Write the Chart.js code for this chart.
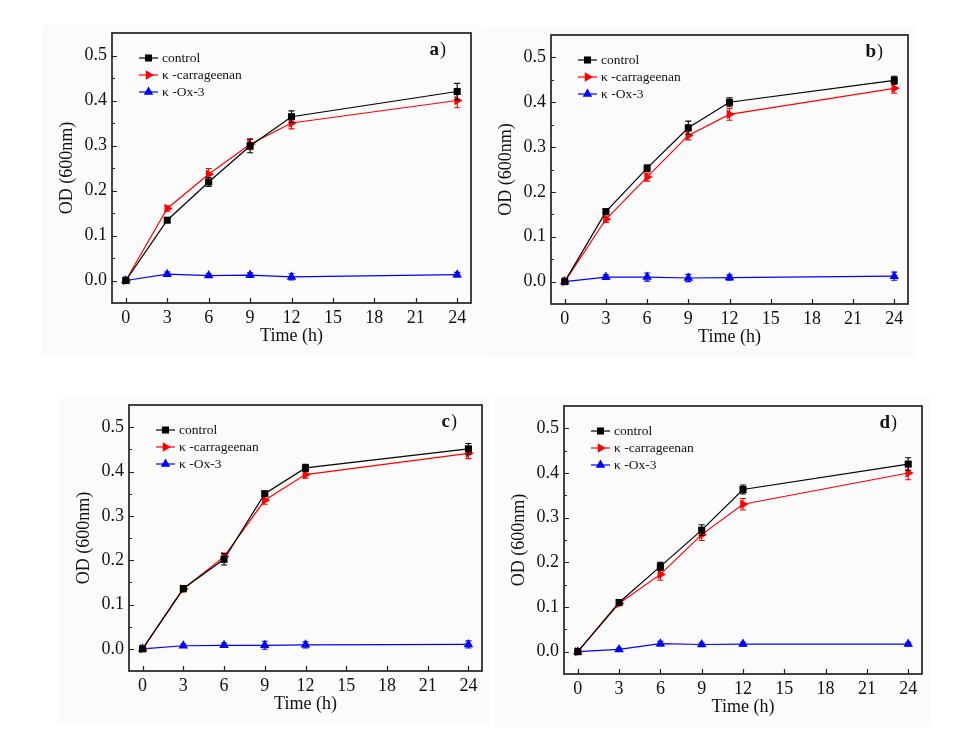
<!DOCTYPE html>
<html>
<head>
<meta charset="utf-8">
<script src="https://cdn.jsdelivr.net/npm/chart.js@4.4.1/dist/chart.umd.min.js"></script>
<style>
  html, body { margin: 0; padding: 0; background: #fff; }
  body { width: 976px; height: 756px; position: relative; overflow: hidden; }
  .bg { position: absolute; background: #fbfbfb; }
  canvas { position: absolute; }
</style>
</head>
<body>
<script>
// sampling times (h)
const times = [0, 3, 6, 9, 12, 24];
const xTicks = [0, 3, 6, 9, 12, 15, 18, 21, 24];
const yTicks = [0, 0.1, 0.2, 0.3, 0.4, 0.5];
const yMinor = [0.05, 0.15, 0.25, 0.35, 0.45];

// panel a
const ctrlA = [0, 0.134, 0.219, 0.299, 0.364, 0.420];
const ctrlErrA = [0.002, 0.005, 0.010, 0.015, 0.013, 0.018];
const carrA = [0, 0.160, 0.236, 0.303, 0.350, 0.400];
const carrErrA = [0.003, 0.006, 0.013, 0.012, 0.013, 0.016];
const oxA = [0, 0.014, 0.011, 0.012, 0.008, 0.013];
const oxErrA = [0.002, 0.005, 0.004, 0.005, 0.007, 0.005];

// panel b
const ctrlB = [0, 0.156, 0.253, 0.343, 0.400, 0.449];
const ctrlErrB = [0.002, 0.005, 0.007, 0.015, 0.010, 0.009];
const carrB = [0, 0.139, 0.233, 0.326, 0.373, 0.431];
const carrErrB = [0.003, 0.007, 0.009, 0.010, 0.013, 0.011];
const oxB = [0, 0.010, 0.010, 0.008, 0.009, 0.012];
const oxErrB = [0.002, 0.005, 0.009, 0.008, 0.006, 0.009];

// panel c
const ctrlC = [0, 0.136, 0.202, 0.350, 0.408, 0.451];
const ctrlErrC = [0.002, 0.007, 0.013, 0.005, 0.008, 0.012];
const carrC = [0, 0.135, 0.208, 0.335, 0.393, 0.441];
const carrErrC = [0.003, 0.006, 0.008, 0.009, 0.008, 0.012];
const oxC = [0, 0.007, 0.008, 0.008, 0.009, 0.010];
const oxErrC = [0.002, 0.004, 0.005, 0.009, 0.007, 0.008];

// panel d
const ctrlD = [0, 0.110, 0.191, 0.272, 0.363, 0.420];
const ctrlErrD = [0.002, 0.004, 0.009, 0.012, 0.010, 0.014];
const carrD = [0, 0.108, 0.173, 0.262, 0.330, 0.400];
const carrErrD = [0.003, 0.005, 0.013, 0.013, 0.013, 0.015];
const oxD = [0, 0.005, 0.018, 0.016, 0.017, 0.017];
const oxErrD = [0.002, 0.003, 0.005, 0.004, 0.004, 0.004];

const seriesNames = ['control', 'κ -carrageenan', 'κ -Ox-3'];

const FONT = "'Liberation Serif', 'Times New Roman', serif";
const AXIS_W = 70, AXIS_H = 60, PAD_T = 20, PAD_R = 20;

// series look
const styles = [
  { color: '#000000', pointStyle: 'rect', radius: 5, rotation: 0 },
  { color: '#ff0000', pointStyle: 'triangle', radius: 5.5, rotation: 90 },
  { color: '#0000ff', pointStyle: 'triangle', radius: 5.5, rotation: 0 }
];

// error bars, drawn under each dataset's markers
const errorBarPlugin = {
  id: 'errorBars',
  beforeDatasetDraw(chart, args) {
    const ds = chart.data.datasets[args.index];
    if (!ds.errors) return;
    const { ctx } = chart;
    const xs = chart.scales.x, ys = chart.scales.y;
    ctx.save();
    ctx.strokeStyle = ds.borderColor;
    ctx.lineWidth = 1.1;
    ds.data.forEach((p, i) => {
      const e = ds.errors[i];
      const px = xs.getPixelForValue(p.x);
      const top = ys.getPixelForValue(p.y + e);
      const bot = ys.getPixelForValue(p.y - e);
      ctx.beginPath();
      ctx.moveTo(px, top); ctx.lineTo(px, bot);
      ctx.moveTo(px - 3, top); ctx.lineTo(px + 3, top);
      ctx.moveTo(px - 3, bot); ctx.lineTo(px + 3, bot);
      ctx.stroke();
    });
    ctx.restore();
  }
};

// frame, inward ticks, legend and panel letter
const framePlugin = {
  id: 'frame',
  afterDraw(chart) {
    const { ctx, chartArea: a } = chart;
    const xs = chart.scales.x, ys = chart.scales.y;
    ctx.save();
    ctx.strokeStyle = '#222';
    ctx.lineWidth = 1.2;
    ctx.beginPath();
    xTicks.forEach(v => {
      const px = Math.round(xs.getPixelForValue(v)) + 0.5;
      ctx.moveTo(px, a.bottom); ctx.lineTo(px, a.bottom - 5);
    });
    yTicks.forEach(v => {
      const py = Math.round(ys.getPixelForValue(v)) + 0.5;
      ctx.moveTo(a.left, py); ctx.lineTo(a.left + 5, py);
    });
    yMinor.forEach(v => {
      const py = Math.round(ys.getPixelForValue(v)) + 0.5;
      ctx.moveTo(a.left, py); ctx.lineTo(a.left + 3, py);
    });
    ctx.stroke();

    ctx.lineWidth = 1.7;
    ctx.strokeRect(a.left, a.top, a.right - a.left, a.bottom - a.top);

    // legend
    ctx.font = '13.5px ' + FONT;
    ctx.textBaseline = 'middle';
    ctx.textAlign = 'left';
    chart.data.datasets.forEach((ds, i) => {
      const y = a.top + 25 + i * 17;
      const st = styles[i];
      ctx.strokeStyle = st.color;
      ctx.lineWidth = 1.2;
      ctx.beginPath();
      ctx.moveTo(a.left + 27, y); ctx.lineTo(a.left + 46, y);
      ctx.stroke();
      ctx.fillStyle = st.color;
      Chart.helpers.drawPoint(ctx, {
        pointStyle: st.pointStyle, radius: st.radius, rotation: st.rotation, borderWidth: 0
      }, a.left + 36.5, y);
      ctx.fillStyle = '#111';
      ctx.fillText(ds.label, a.left + 50, y + 0.5);
    });

    // panel letter, e.g. "a)"
    const letter = chart.options.plugins.frame.letter;
    ctx.fillStyle = '#111';
    ctx.font = '18px ' + FONT;
    const pw = ctx.measureText(')').width;
    ctx.font = 'bold 19px ' + FONT;
    const lw = ctx.measureText(letter).width;
    const x0 = a.right - 26 - pw - lw;
    ctx.fillText(letter, x0, a.top + 17);
    ctx.font = '18px ' + FONT;
    ctx.fillText(')', x0 + lw + 1, a.top + 17);
    ctx.restore();
  }
};

function makePanel(letter, area, ctrl, ctrlErr, carr, carrErr, ox, oxErr) {
  const bg = document.createElement('div');
  bg.className = 'bg';
  bg.style.left = (area.L - 70) + 'px';
  bg.style.top = (area.T - 8) + 'px';
  bg.style.width = (area.R - area.L + 78) + 'px';
  bg.style.height = (area.B - area.T + 61) + 'px';
  document.body.appendChild(bg);

  const cv = document.createElement('canvas');
  const w = area.R - area.L + AXIS_W + PAD_R;
  const h = area.B - area.T + AXIS_H + PAD_T;
  cv.width = w; cv.height = h;
  cv.style.width = w + 'px'; cv.style.height = h + 'px';
  cv.style.left = (area.L - AXIS_W) + 'px';
  cv.style.top = (area.T - PAD_T) + 'px';
  document.body.appendChild(cv);

  const values = [ctrl, carr, ox];
  const errs = [ctrlErr, carrErr, oxErr];
  const datasets = values.map((vals, i) => ({
    label: seriesNames[i],
    data: vals.map((v, j) => ({ x: times[j], y: v })),
    errors: errs[i],
    borderColor: styles[i].color,
    backgroundColor: styles[i].color,
    pointBackgroundColor: styles[i].color,
    pointBorderColor: styles[i].color,
    pointBorderWidth: 0,
    pointStyle: styles[i].pointStyle,
    pointRotation: styles[i].rotation,
    pointRadius: styles[i].radius,
    borderWidth: 1.2,
    tension: 0,
    fill: false
  }));

  const tickFont = { family: FONT, size: 18 };
  return new Chart(cv.getContext('2d'), {
    type: 'line',
    data: { datasets },
    options: {
      responsive: false,
      animation: false,
      layout: { padding: { top: PAD_T, right: PAD_R, left: 0, bottom: 0 } },
      plugins: {
        legend: { display: false },
        tooltip: { enabled: false },
        frame: { letter }
      },
      scales: {
        x: {
          type: 'linear',
          min: -1, max: 25,
          afterBuildTicks: s => { s.ticks = xTicks.map(v => ({ value: v })); },
          afterFit: s => { s.height = AXIS_H; },
          grid: { display: false, drawTicks: false },
          border: { display: false },
          ticks: {
            color: '#111', font: tickFont, padding: 4,
            maxRotation: 0, autoSkip: false,
            callback: v => String(v)
          },
          title: {
            display: true, text: 'Time (h)', color: '#111',
            font: { family: FONT, size: 18 },
            padding: { top: 0, bottom: 16 }
          }
        },
        y: {
          type: 'linear',
          min: -0.05, max: 0.55,
          afterBuildTicks: s => { s.ticks = yTicks.map(v => ({ value: v })); },
          afterFit: s => { s.width = AXIS_W; },
          grid: { display: false, drawTicks: false },
          border: { display: false },
          ticks: {
            color: '#111', font: tickFont, padding: 5,
            callback: v => Number(v).toFixed(1)
          },
          title: {
            display: true, text: 'OD (600nm)', color: '#111',
            font: { family: FONT, size: 18 },
            padding: { top: 14, bottom: 0 }
          }
        }
      }
    },
    plugins: [errorBarPlugin, framePlugin]
  });
}

makePanel('a', { L: 112, T: 33, R: 471, B: 303 }, ctrlA, ctrlErrA, carrA, carrErrA, oxA, oxErrA);
makePanel('b', { L: 551, T: 35, R: 908, B: 304 }, ctrlB, ctrlErrB, carrB, carrErrB, oxB, oxErrB);
makePanel('c', { L: 129, T: 405, R: 482, B: 671 }, ctrlC, ctrlErrC, carrC, carrErrC, oxC, oxErrC);
makePanel('d', { L: 564, T: 406, R: 922, B: 674 }, ctrlD, ctrlErrD, carrD, carrErrD, oxD, oxErrD);
</script>
</body>
</html>
